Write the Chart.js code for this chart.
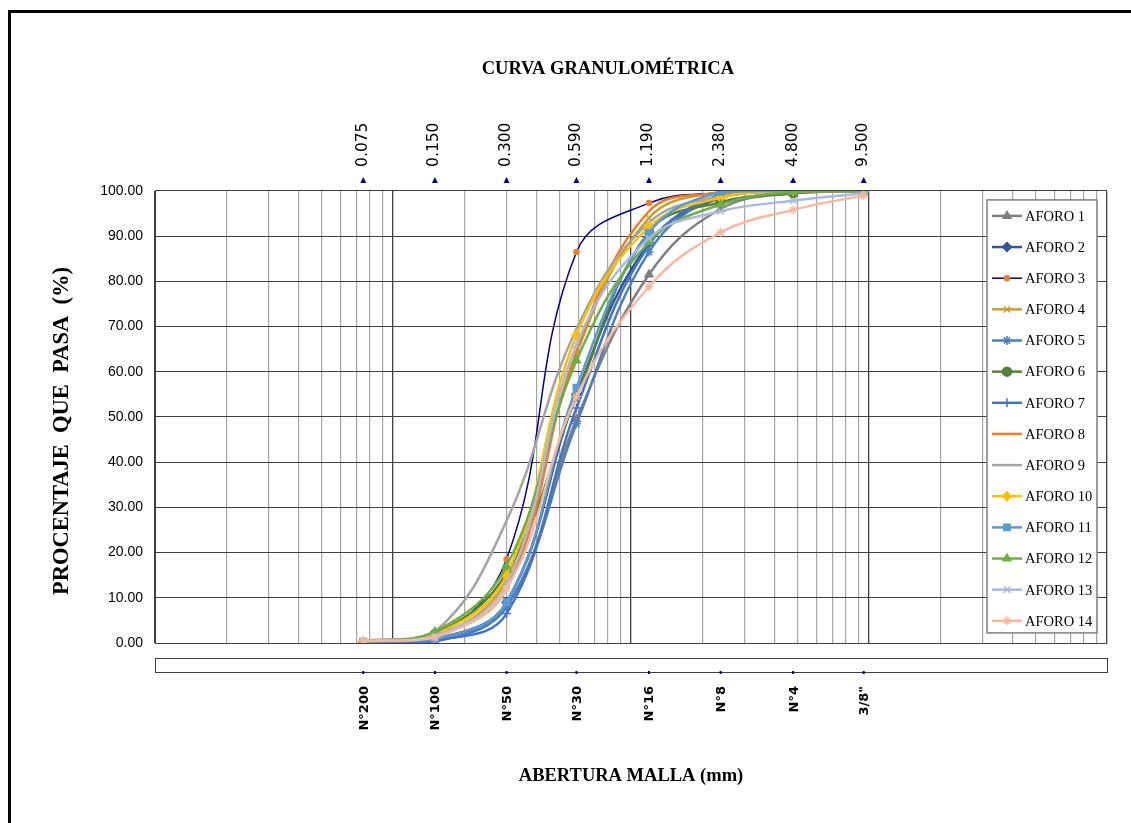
<!DOCTYPE html>
<html>
<head>
<meta charset="utf-8">
<title>Curva granulometrica</title>
<script src="https://cdn.jsdelivr.net/npm/chart.js@4.4.1/dist/chart.umd.min.js"></script>
<style>
 html,body{margin:0;padding:0;background:#fff;overflow:hidden;}
 #wrap{position:relative;width:1131px;height:823px;}
 #frame{position:absolute;left:8px;top:10px;width:2000px;height:2000px;border-left:3px solid #000;border-top:3px solid #000;}
 canvas{position:absolute;left:0;top:0;}
</style>
</head>
<body>
<div id="wrap">
 <div id="frame"></div>
 <canvas id="curva" width="1131" height="823"></canvas>
</div>
<script>
// Tamices (mm) y nombres
var aberturas = [0.075, 0.150, 0.300, 0.590, 1.190, 2.380, 4.800, 9.500];
var mallas = ['N°200', 'N°100', 'N°50', 'N°30', 'N°16', 'N°8', 'N°4', '3/8"'];

// % que pasa por cada aforo
var aforo1  = [0.2, 1.0,  8.0, 49.5, 81.5, 96.0, 99.5, 100];
var aforo2  = [0.1, 0.8,  9.0, 55.0, 88.5, 98.5, 100, 100];
var aforo3  = [0.3, 1.2, 18.5, 86.5, 97.3, 99.6, 100, 100];
var aforo4  = [0.2, 1.2, 14.0, 64.0, 94.0, 99.8, 100, 100];
var aforo5  = [0.0, 0.3,  8.0, 48.5, 86.5, 99.0, 100, 100];
var aforo6  = [0.0, 2.0, 15.5, 54.5, 91.0, 97.5, 99.5, 100];
var aforo7  = [0.0, 0.5,  6.5, 52.0, 88.0, 99.3, 100, 100];
var aforo8  = [0.3, 1.5, 12.0, 64.5, 95.5, 99.5, 100, 100];
var aforo9  = [0.5, 2.5, 27.0, 69.5, 93.0, 98.8, 100, 100];
var aforo10 = [0.2, 1.8, 15.0, 68.0, 92.0, 98.5, 100, 100];
var aforo11 = [0.3, 0.8,  9.0, 56.5, 90.7, 99.8, 100, 100];
var aforo12 = [0.0, 2.5, 17.0, 62.5, 88.7, 97.0, 99.8, 100];
var aforo13 = [0.3, 1.5, 13.0, 66.0, 89.5, 95.5, 97.8, 99.5];
var aforo14 = [0.5, 1.2, 12.0, 54.5, 78.8, 90.8, 95.8, 99.0];

var series = [aforo1, aforo2, aforo3, aforo4, aforo5, aforo6, aforo7,
              aforo8, aforo9, aforo10, aforo11, aforo12, aforo13, aforo14];

var colores = ['#7F7F7F', '#2F5597', '#000080', '#C9A02A', '#4D80B8', '#548235', '#4472C4',
               '#ED7D31', '#A5A5A5', '#FFC000', '#5B9BD5', '#70AD47', '#A9B9E0', '#F4B9A0'];
var marcadores = ['triangle', 'rectRot', 'circle', 'crossRot', 'star', 'circle', 'cross',
                  false, false, 'rectRot', 'rect', 'triangle', 'crossRot', 'star'];

var datasets = series.map(function(vals, i) {
 var mk = marcadores[i];
 var pc = i === 2 ? '#ED7D31' : colores[i];
 return {
  label: 'AFORO ' + (i + 1),
  data: aberturas.map(function(a, j) { return {x: a, y: vals[j]}; }),
  borderColor: colores[i],
  backgroundColor: colores[i],
  borderWidth: i === 2 ? 1.5 : 2.5,
  pointStyle: mk || 'circle',
  pointRadius: mk ? (i === 2 ? 2.5 : 4.5) : 0,
  pointBackgroundColor: pc,
  pointBorderColor: pc,
  pointBorderWidth: 1.5,
  tension: 0.4,
  fill: false,
  order: 13 - i
 };
});

// lineas de rejilla: 1..9 por decada
function rejilla(scale) {
 var t = [];
 for (var e = -2; e <= 1; e++) {
  for (var m = 1; m <= 9; m++) t.push({value: m * Math.pow(10, e), major: m === 1});
 }
 t.push({value: 100, major: true});
 scale.ticks = t;
}

function ticksTamiz(scale) {
 scale.ticks = aberturas.map(function(a) { return {value: a}; });
}

// triangulos, caja inferior y leyenda
var extras = {
 id: 'extras',
 afterDraw: function(chart) {
  var ctx = chart.ctx, a = chart.chartArea;
  var sup = chart.scales.xTop, inf = chart.scales.xSieve;
  ctx.save();
  ctx.strokeStyle = '#404040';
  ctx.lineWidth = 1;
  ctx.strokeRect(a.left + 0.5, a.bottom + 15.5, a.right - a.left, 14);
  ctx.fillStyle = '#000080';
  aberturas.forEach(function(s) {
   var x = sup.getPixelForValue(s);
   ctx.beginPath();
   ctx.moveTo(x - 3, a.top - 8);
   ctx.lineTo(x + 3, a.top - 8);
   ctx.lineTo(x, a.top - 14);
   ctx.closePath();
   ctx.fill();
   var xb = inf.getPixelForValue(s);
   ctx.fillRect(xb - 1, a.bottom + 28, 2, 3);
  });

  // leyenda
  var lx = a.right - 120, ly = a.top + 9, lw = 110, lh = 433;
  ctx.fillStyle = '#fff';
  ctx.fillRect(lx, ly, lw, lh);
  ctx.strokeStyle = '#808080';
  ctx.lineWidth = 1.5;
  ctx.strokeRect(lx, ly, lw, lh);
  chart.data.datasets.forEach(function(ds, i) {
   var y = ly + 16 + i * 31.15;
   ctx.strokeStyle = ds.borderColor;
   ctx.lineWidth = ds.borderWidth;
   ctx.beginPath();
   ctx.moveTo(lx + 5, y);
   ctx.lineTo(lx + 35, y);
   ctx.stroke();
   if (ds.pointRadius > 0) {
    ctx.fillStyle = ds.pointBackgroundColor;
    ctx.strokeStyle = ds.pointBorderColor;
    ctx.lineWidth = ds.pointBorderWidth;
    Chart.helpers.drawPoint(ctx, {pointStyle: ds.pointStyle, radius: ds.pointRadius, rotation: 0, borderWidth: ds.pointBorderWidth}, lx + 20, y);
   }
   ctx.fillStyle = '#000';
   ctx.font = '14.5px "Liberation Serif"';
   ctx.textBaseline = 'middle';
   ctx.textAlign = 'left';
   ctx.fillText(ds.label, lx + 38, y + 1);
  });
  ctx.restore();
 }
};

new Chart(document.getElementById('curva'), {
 type: 'line',
 data: {datasets: datasets},
 plugins: [extras],
 options: {
  responsive: false,
  animation: false,
  layout: {padding: {left: 40, right: 24, top: 10, bottom: 20}},
  plugins: {
   legend: {display: false},
   tooltip: {enabled: false},
   title: {
    display: true,
    fullSize: false,
    text: 'CURVA GRANULOMÉTRICA\u00A0\u00A0\u00A0\u00A0\u00A0\u00A0\u00A0\u00A0\u00A0\u00A0',
    color: '#000',
    font: {family: 'Liberation Serif', size: 18.5, weight: 'bold', lineHeight: 1.2},
    padding: {top: 48, bottom: 0}
   }
  },
  scales: {
   x: {
    type: 'logarithmic',
    min: 0.01,
    max: 100,
    afterBuildTicks: rejilla,
    ticks: {display: false},
    grid: {
     drawTicks: false,
     color: function(c) { return c.tick && c.tick.major ? '#404040' : '#A6A6A6'; },
     lineWidth: function(c) { return c.tick && c.tick.major ? 1.3 : 1.2; }
    },
    border: {color: '#404040'}
   },
   xTop: {
    type: 'logarithmic',
    position: 'top',
    min: 0.01,
    max: 100,
    afterBuildTicks: ticksTamiz,
    afterFit: function(s) { s.height = 110.7; },
    grid: {display: false, drawTicks: false},
    border: {display: false},
    ticks: {
     autoSkip: false,
     minRotation: 90,
     maxRotation: 90,
     padding: 24,
     labelOffset: 18,
     color: '#000',
     font: {family: 'DejaVu Sans', size: 15.5},
     callback: function(v) { return Number(v).toFixed(3); }
    }
   },
   xSieve: {
    type: 'logarithmic',
    position: 'bottom',
    weight: 1,
    min: 0.01,
    max: 100,
    afterBuildTicks: ticksTamiz,
    afterFit: function(s) { s.height = 160; },
    grid: {display: false, drawTicks: false},
    border: {display: false},
    ticks: {
     autoSkip: false,
     minRotation: 90,
     maxRotation: 90,
     padding: 43,
     labelOffset: 1,
     color: '#000',
     font: {family: 'DejaVu Sans', size: 13, weight: 'bold'},
     callback: function(v, i) { return mallas[i]; }
    },
    title: {
     display: true,
     text: 'ABERTURA MALLA (mm)',
     color: '#000',
     font: {family: 'Liberation Serif', size: 18.5, weight: 'bold'},
     padding: {top: 0, bottom: 16}
    }
   },
   y: {
    min: 0,
    max: 100,
    afterFit: function(s) { s.width = 115; },
    ticks: {
     stepSize: 10,
     padding: 12,
     color: '#000',
     font: {family: 'Liberation Sans', size: 14},
     callback: function(v) { return v.toFixed(2); }
    },
    grid: {color: '#404040', drawTicks: false},
    border: {color: '#404040'},
    title: {
     display: true,
     text: 'PROCENTAJE  QUE  PASA  (%)\u00A0\u00A0\u00A0\u00A0\u00A0',
     color: '#000',
     font: {family: 'Liberation Serif', size: 22.5, weight: 'bold'},
     padding: {top: 9, bottom: 0}
    }
   }
  }
 }
});
</script>
</body>
</html>
